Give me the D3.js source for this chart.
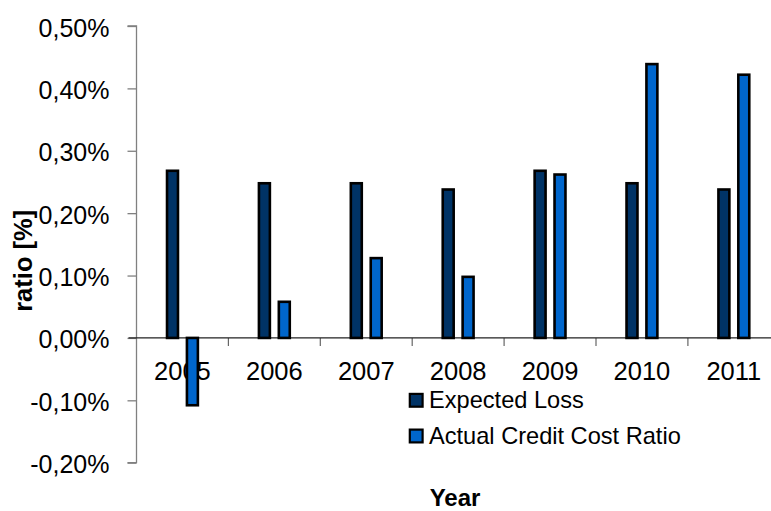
<!DOCTYPE html>
<html>
<head>
<meta charset="utf-8">
<script src="https://cdn.jsdelivr.net/npm/d3@7"></script>
<style>
  html, body { margin: 0; padding: 0; background: #fff; }
  svg { display: block; font-family: "Liberation Sans", Arial, sans-serif; }
</style>
</head>
<body>
<svg id="chart" width="771" height="511"></svg>
<script>
const years = ["2005", "2006", "2007", "2008", "2009", "2010", "2011"];
const seriesNames = ["Expected Loss", "Actual Credit Cost Ratio"];
const expectedLoss = [0.27, 0.25, 0.25, 0.24, 0.27, 0.25, 0.24];
const actualCreditCostRatio = [-0.11, 0.06, 0.13, 0.10, 0.264, 0.441, 0.424];
const yTickValues = [-0.2, -0.1, 0, 0.1, 0.2, 0.3, 0.4, 0.5];
const seriesColors = ["#003366", "#0066CC"];

const svg = d3.select("#chart");
const axisX = 136.5, plotRight = 779.8, yTop = 26, yBottom = 462.7;

const y = d3.scaleLinear().domain([-0.2, 0.5]).range([yBottom, yTop]);
const x0 = d3.scaleBand().domain(years).range([axisX, plotRight]).padding(0);
const half = 19.9;
const x1 = d3.scaleBand().domain([0, 1])
  .range([x0.bandwidth() / 2 - half, x0.bandwidth() / 2 + half])
  .paddingInner(0.45).paddingOuter(0.225);

const fmt = v => v.toFixed(2).replace(".", ",") + "%";

// Y axis
const yAxis = svg.append("g")
  .attr("transform", `translate(${axisX},0)`)
  .call(d3.axisLeft(y).tickValues(yTickValues).tickFormat(fmt).tickSize(9).tickPadding(18));
yAxis.select(".domain").attr("stroke", "#808080").attr("stroke-width", 1.3)
  .attr("d", `M-9,${yTop}H0V${yBottom}H-9`);
yAxis.selectAll(".tick line").attr("stroke", "#808080").attr("stroke-width", 1.3);
yAxis.selectAll(".tick text").attr("font-size", 25).attr("fill", "#000")
  .attr("dy", "0.4em").attr("font-family", "Liberation Sans, Arial, sans-serif");

// X category ticks at band boundaries
const boundaries = years.slice(1).map(d => x0(d));
svg.append("g").selectAll("line").data(boundaries).join("line")
  .attr("x1", d => d).attr("x2", d => d)
  .attr("y1", y(0)).attr("y2", y(0) + 8)
  .attr("stroke", "#666").attr("stroke-width", 1.2);

// Category labels
svg.append("g").selectAll("text").data(years).join("text")
  .attr("x", d => x0(d) + x0.bandwidth() / 2)
  .attr("y", y(0) + 42)
  .attr("text-anchor", "middle")
  .attr("font-size", 25.5)
  .attr("fill", "#000")
  .text(d => d);

// Zero line
svg.append("line")
  .attr("x1", axisX - 8).attr("x2", 771)
  .attr("y1", y(0)).attr("y2", y(0))
  .attr("stroke", "#222").attr("stroke-width", 1.3);

// Bars
const rows = years.map((yr, i) => ({ yr, vals: [expectedLoss[i], actualCreditCostRatio[i]] }));
const groups = svg.append("g").selectAll("g").data(rows).join("g")
  .attr("transform", d => `translate(${x0(d.yr)},0)`);
groups.selectAll("rect").data(d => d.vals.map((v, k) => ({ v, k }))).join("rect")
  .attr("x", d => x1(d.k))
  .attr("width", x1.bandwidth())
  .attr("y", d => d.v >= 0 ? y(d.v) + 1.3 : y(0))
  .attr("height", d => Math.abs(y(d.v) - y(0)) - 1.3)
  .attr("fill", d => seriesColors[d.k])
  .attr("stroke", "#000")
  .attr("stroke-width", 2.6);

// Legend
const legend = svg.append("g").attr("transform", "translate(409,0)");
const legRows = legend.selectAll("g").data(seriesNames).join("g")
  .attr("transform", (d, i) => `translate(0,${408.3 + i * 35.7})`);
legRows.append("rect")
  .attr("x", 0.8).attr("y", -14.4).attr("width", 12.8).attr("height", 12.8)
  .attr("fill", (d, i) => seriesColors[i])
  .attr("stroke", "#000").attr("stroke-width", 2.2);
legRows.append("text")
  .attr("x", 20).attr("y", 0)
  .attr("font-size", 23.6).attr("fill", "#000")
  .text(d => d);

// Axis titles
svg.append("text")
  .attr("x", 455).attr("y", 506)
  .attr("text-anchor", "middle")
  .attr("font-size", 24).attr("font-weight", "bold")
  .text("Year");
svg.append("text")
  .attr("transform", "translate(32,260.8) rotate(-90)")
  .attr("text-anchor", "middle")
  .attr("font-size", 25.5).attr("font-weight", "bold")
  .text("ratio [%]");
</script>
</body>
</html>
